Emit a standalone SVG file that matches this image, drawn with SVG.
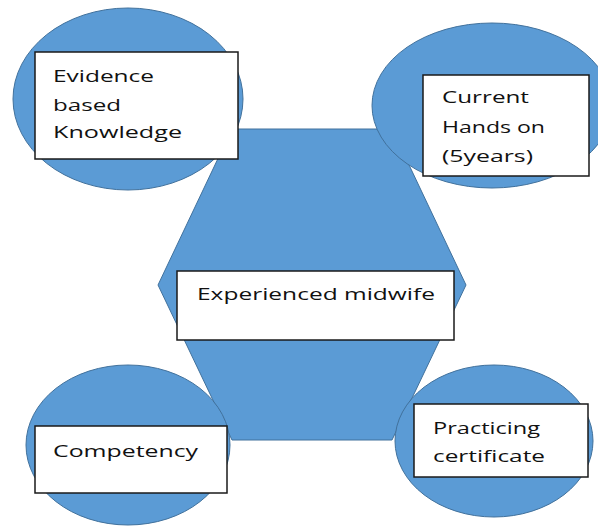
<svg xmlns="http://www.w3.org/2000/svg" width="598" height="526" viewBox="0 0 598 526">
<style>
.shape{fill:#5B9BD5;stroke:#41719C;stroke-width:1}
.box{fill:#FFFFFF;stroke:#1a1a1a;stroke-width:1.5}
.t{font-family:"Open Sans","Noto Sans","Liberation Sans",sans-serif;font-size:17px;fill:#111111}
</style>
<rect width="598" height="526" fill="#FFFFFF"/>
<g id="connectors"></g>
<g id="hub">
<polygon class="shape" points="158,285 232,129 392,129 466,285 392,440 232,440"/>
</g>
<g id="node-evidence">
<ellipse class="shape" cx="128" cy="99" rx="115" ry="91"/>
<rect class="box" x="35" y="52" width="203" height="107"/>
<text class="t" x="53" y="82" textLength="101" lengthAdjust="spacingAndGlyphs">Evidence</text>
<text class="t" x="53" y="111" textLength="68" lengthAdjust="spacingAndGlyphs">based</text>
<text class="t" x="53" y="138" textLength="129" lengthAdjust="spacingAndGlyphs">Knowledge</text>
</g>
<g id="node-current">
<ellipse class="shape" cx="492" cy="105.5" rx="120" ry="82.5"/>
<rect class="box" x="423" y="75" width="166" height="101"/>
<text class="t" x="442" y="103" textLength="87" lengthAdjust="spacingAndGlyphs">Current</text>
<text class="t" x="442" y="133" textLength="103" lengthAdjust="spacingAndGlyphs">Hands on</text>
<text class="t" x="442" y="162" textLength="91" lengthAdjust="spacingAndGlyphs">(5years)</text>
</g>
<g id="node-competency">
<ellipse class="shape" cx="128" cy="445" rx="102" ry="80"/>
<rect class="box" x="35" y="426" width="192" height="67"/>
<text class="t" x="53" y="457" textLength="145" lengthAdjust="spacingAndGlyphs">Competency</text>
</g>
<g id="node-practicing">
<ellipse class="shape" cx="494" cy="441" rx="99" ry="76"/>
<rect class="box" x="414" y="404" width="174" height="73"/>
<text class="t" x="433" y="434" textLength="107" lengthAdjust="spacingAndGlyphs">Practicing</text>
<text class="t" x="433" y="462" textLength="112" lengthAdjust="spacingAndGlyphs">certificate</text>
</g>
<g id="node-center">
<rect class="box" x="177" y="271" width="277" height="69"/>
<text class="t" x="197" y="300" textLength="238" lengthAdjust="spacingAndGlyphs">Experienced midwife</text>
</g>
</svg>
